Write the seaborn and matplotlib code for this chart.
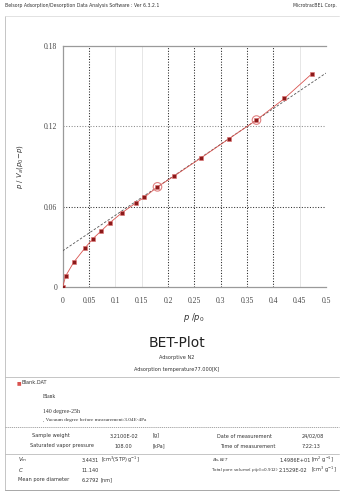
import matplotlib
matplotlib.use("Agg")
import matplotlib.pyplot as plt
import seaborn as sns
import pandas as pd
from matplotlib.lines import Line2D

# ---- data ----
rel_pressure = [0.0, 0.0057, 0.021, 0.042, 0.0576, 0.0734, 0.089, 0.112, 0.139, 0.155,
                0.180, 0.211, 0.263, 0.316, 0.368, 0.421, 0.473]
bet_value = [0.0, 0.0083, 0.0185, 0.029, 0.0362, 0.042, 0.0478, 0.0553, 0.0628, 0.067,
             0.0748, 0.0827, 0.0965, 0.1108, 0.1247, 0.1408, 0.1592]
range_pressure = [0.180, 0.368]
range_value = [0.0748, 0.1247]
bet_line_x = [0.0, 0.5]
bet_line_y = [0.027, 0.1598]
x_ticks = [0, 0.05, 0.1, 0.15, 0.2, 0.25, 0.3, 0.35, 0.4, 0.45, 0.5]
x_tick_labels = ["0", "0.05", "0.1", "0.15", "0.2", "0.25", "0.3", "0.35", "0.4", "0.45", "0.5"]
y_ticks = [0, 0.06, 0.12, 0.18]
y_tick_labels = ["0", "0.06", "0.12", "0.18"]
dark_vgrid = [0.05, 0.2, 0.25, 0.3, 0.35, 0.4]
light_vgrid = [0.1, 0.15, 0.45]
hgrid = [0.06, 0.12]

W, H = 341, 497
sns.set_theme(style="white")
plt.rcParams['font.family'] = ['DejaVu Sans']

fig = plt.figure(figsize=(W / 100, H / 100), dpi=100)
fig.patch.set_facecolor("white")

L, R, T, B = 62.7, 326, 46, 287
ax = fig.add_axes([L / W, 1 - B / H, (R - L) / W, (B - T) / H])

df = pd.DataFrame({"p": rel_pressure, "v": bet_value})
line_df = pd.DataFrame({"p": bet_line_x, "v": bet_line_y})
rng_df = pd.DataFrame({"p": range_pressure, "v": range_value})

# grid
for g in dark_vgrid:
    ax.axvline(g, color="#222222", lw=0.75, ls=(0, (1.0, 1.6)), zorder=1)
for g in light_vgrid:
    ax.axvline(g, color="#e6e6e6", lw=0.7, zorder=1)
for g in hgrid:
    ax.axhline(g, color="#333333" if g == 0.06 else "#8a8a8a", lw=0.75,
               ls=(0, (1.0, 1.6)), zorder=1)

sns.lineplot(data=line_df, x="p", y="v", ax=ax, color="#555555", lw=0.6,
             linestyle=(0, (3, 2)), zorder=3)
sns.lineplot(data=df, x="p", y="v", ax=ax, sort=False, color="#d9534f", lw=0.6, zorder=4)
sns.scatterplot(data=rng_df, x="p", y="v", ax=ax, s=38, facecolor="none",
                edgecolor="#e08080", linewidth=0.8, zorder=5)
sns.scatterplot(data=df, x="p", y="v", ax=ax, s=6, marker="s", color="#8b1a1a",
                edgecolor="#e07070", linewidth=0.4, zorder=6)

ax.set_xlim(0, 0.5)
ax.set_ylim(0, 0.18)
ax.set_xticks(x_ticks)
ax.set_xticklabels(x_tick_labels)
ax.set_yticks(y_ticks)
ax.set_yticklabels(y_tick_labels)
ax.tick_params(length=0, labelsize=5.5, colors="#444444")
ax.tick_params(axis="x", pad=7)
ax.tick_params(axis="y", pad=4)
for lab in ax.get_xticklabels() + ax.get_yticklabels():
    lab.set_family("Liberation Serif")
for s in ["left", "bottom", "top"]:
    ax.spines[s].set_color("#9a9a9a")
    ax.spines[s].set_linewidth(0.9)
ax.spines["right"].set_visible(False)
ax.set_xlabel("")
ax.set_ylabel("")


def fx(x):
    return x / W


def fy(y):
    return 1 - y / H


def txt(x, y, s, size=3.8, ha="left", **kw):
    fig.text(fx(x), fy(y), s, fontsize=size, ha=ha, va="center", color="#333333", **kw)


def hline(y, x0=5, x1=339, ls="-", color="#bbbbbb", lw=0.6):
    fig.add_artist(Line2D([fx(x0), fx(x1)], [fy(y), fy(y)], color=color, lw=lw, ls=ls,
                          transform=fig.transFigure))


# axis labels
fig.text(fx(194), fy(318), r"$p\ /p_0$", fontsize=6, ha="center", va="center",
         color="#333333", family="DejaVu Serif")
fig.text(fx(20), fy(167), r"$p\ /\ V_a(p_0\!-\!p)$", fontsize=5, ha="center",
         va="center", rotation=90, color="#333333")

# header
txt(5, 6, "Belsorp Adsorption/Desorption Data Analysis Software : Ver 6.3.2.1", size=3.3)
txt(337, 6, "MicrotracBEL Corp.", size=3.3, ha="right")

# page frame
fig.add_artist(Line2D([fx(5), fx(5)], [fy(16), fy(490)], color="#bbbbbb", lw=0.6,
                      transform=fig.transFigure))
hline(16, color="#dddddd")

# title block
fig.text(fx(177), fy(343), "BET-Plot", fontsize=10, ha="center", va="center", color="#222222")
txt(177, 358, "Adsorptive N2", size=3.6, ha="center")
txt(177, 370, "Adsorption temperature77.000[K]", size=3.6, ha="center")
hline(377)

# legend
fig.text(fx(17), fy(383), "■", fontsize=3.5, ha="left", va="center", color="#d9534f")
txt(22, 383, "Blank.DAT", size=3.6)
txt(43, 397, "Blank", size=4.0, family="Liberation Serif")
txt(43, 412, "140 degree-25h", size=4.2, family="Liberation Serif")
txt(43, 420, ", Vacuum degree before measurement:3.04E-4Pa", size=3.8, family="Liberation Serif")
hline(427, ls=(0, (1.5, 1.0)), color="#999999")

# table
TS = 3.6
txt(32, 436, "Sample weight", size=TS)
txt(110, 436, "3.2100E-02", size=TS)
txt(153, 436, "[g]", size=TS)
txt(217, 436, "Date of measurement", size=TS)
txt(302, 436, "24/02/08", size=TS)
txt(30, 446, "Saturated vapor pressure", size=TS)
txt(115, 446, "108.00", size=TS)
txt(153, 446, "[kPa]", size=TS)
txt(220, 446, "Time of measurement", size=TS)
txt(302, 446, "7:22:13", size=TS)
hline(454)

txt(18, 460, r"$V_m$", size=4.0)
txt(82, 460, "3.4431", size=TS)
txt(101, 460, r"[cm$^3$(STP) g$^{-1}$]", size=TS)
txt(212, 460, r"$a_{s,BET}$", size=4.0)
txt(279, 460, "1.4986E+01", size=TS)
txt(311, 460, r"[m$^2$ g$^{-1}$]", size=TS)
txt(18, 470, r"$C$", size=4.0)
txt(82, 470, "11.140", size=TS)
txt(211, 470, r"Total pore volume( $p/p_0$=0.912)", size=3.0)
txt(279, 470, "2.1529E-02", size=TS)
txt(311, 470, r"[cm$^3$ g$^{-1}$]", size=TS)
txt(18, 480, "Mean pore diameter", size=TS)
txt(82, 480, "6.2792", size=TS)
txt(101, 480, "[nm]", size=TS)
hline(490, color="#999999")

fig.savefig("out.png", dpi=100, facecolor="white")
